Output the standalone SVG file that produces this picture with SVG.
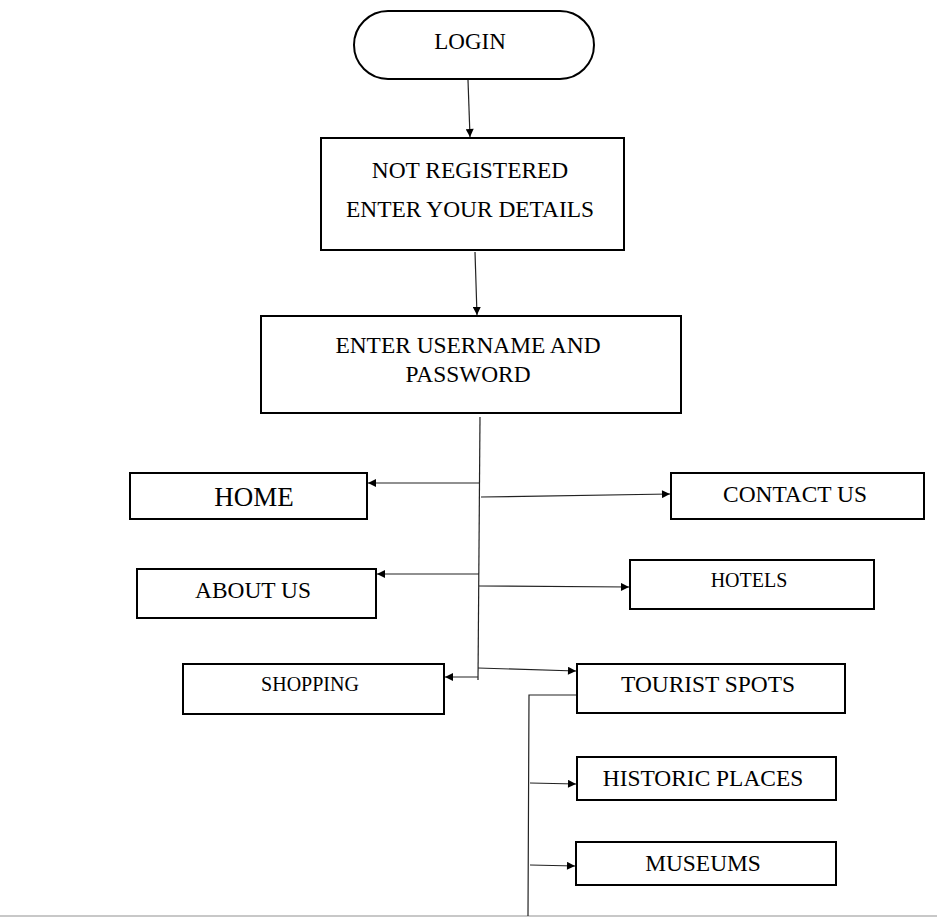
<svg xmlns="http://www.w3.org/2000/svg" width="937" height="918" viewBox="0 0 937 918">
<defs>
<style>
.box{fill:#fff;stroke:#000;stroke-width:2}
.t{font-family:"Liberation Serif","Times New Roman",serif;fill:#000;text-anchor:middle;font-size:23.4px}
.c{fill:none;stroke:#222;stroke-width:1.2}
</style>
<marker id="ah" viewBox="0 0 10 10" refX="10" refY="5" markerWidth="10" markerHeight="8" markerUnits="userSpaceOnUse" orient="auto">
<path d="M0,0 L10,5 L0,10 Z" fill="#000"/>
</marker>
</defs>
<rect width="937" height="918" fill="#fff"/>
<line x1="0" y1="916" x2="937" y2="916" stroke="#c8c8c8" stroke-width="2"/>
<g id="connectors">
<line class="c" x1="468" y1="80" x2="470" y2="137" marker-end="url(#ah)"/>
<line class="c" x1="475" y1="252" x2="477" y2="315" marker-end="url(#ah)"/>
<line class="c" x1="480" y1="417" x2="478" y2="680"/>
<line class="c" x1="480" y1="483" x2="368" y2="483" marker-end="url(#ah)"/>
<line class="c" x1="481" y1="497" x2="670" y2="494" marker-end="url(#ah)"/>
<line class="c" x1="479" y1="574" x2="377" y2="574" marker-end="url(#ah)"/>
<line class="c" x1="479" y1="586" x2="629" y2="587" marker-end="url(#ah)"/>
<line class="c" x1="478" y1="677" x2="445" y2="677" marker-end="url(#ah)"/>
<line class="c" x1="478" y1="668" x2="576" y2="671" marker-end="url(#ah)"/>
<polyline class="c" points="577,695 529,695 528,916"/>
<line class="c" x1="530" y1="783" x2="576" y2="784" marker-end="url(#ah)"/>
<line class="c" x1="530" y1="865" x2="575" y2="866" marker-end="url(#ah)"/>
</g>
<g id="login">
<rect class="box" x="354" y="11" width="240" height="68" rx="34" ry="34"/>
<text class="t" x="470" y="49" style="font-size:23px">LOGIN</text>
</g>
<g id="not-registered">
<rect class="box" x="321" y="138" width="303" height="112"/>
<text class="t" x="470" y="178">NOT REGISTERED</text>
<text class="t" x="470" y="217">ENTER YOUR DETAILS</text>
</g>
<g id="enter-credentials">
<rect class="box" x="261" y="316" width="420" height="97"/>
<text class="t" x="468" y="353">ENTER USERNAME AND</text>
<text class="t" x="468" y="382">PASSWORD</text>
</g>
<g id="home">
<rect class="box" x="130" y="473" width="237" height="46"/>
<text class="t" x="254" y="506" style="font-size:27px">HOME</text>
</g>
<g id="contact-us">
<rect class="box" x="671" y="473" width="253" height="46"/>
<text class="t" x="795" y="502">CONTACT US</text>
</g>
<g id="about-us">
<rect class="box" x="137" y="569" width="239" height="49"/>
<text class="t" x="253" y="598">ABOUT US</text>
</g>
<g id="hotels">
<rect class="box" x="630" y="560" width="244" height="49"/>
<text class="t" x="749" y="587" style="font-size:20px">HOTELS</text>
</g>
<g id="shopping">
<rect class="box" x="183" y="664" width="261" height="50"/>
<text class="t" x="310" y="691" style="font-size:20px">SHOPPING</text>
</g>
<g id="tourist-spots">
<rect class="box" x="577" y="664" width="268" height="49"/>
<text class="t" x="708" y="692">TOURIST SPOTS</text>
</g>
<g id="historic-places">
<rect class="box" x="577" y="757" width="259" height="43"/>
<text class="t" x="703" y="786">HISTORIC PLACES</text>
</g>
<g id="museums">
<rect class="box" x="576" y="842" width="260" height="43"/>
<text class="t" x="703" y="871">MUSEUMS</text>
</g>
</svg>
